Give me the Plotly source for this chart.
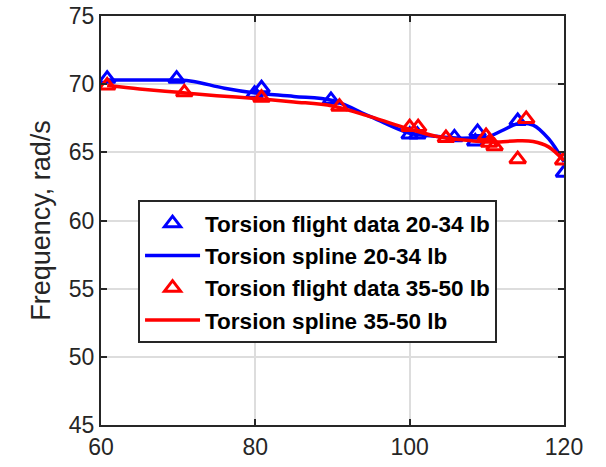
import plotly.graph_objects as go

# Flight data (20-34 lb)
blue_x = [60.8, 69.8, 79.9, 80.8, 89.8, 100.0, 101.0, 105.8, 108.5, 108.8, 114.0, 120.0]
blue_y = [70.4, 70.4, 69.3, 69.7, 68.85, 66.3, 66.3, 66.1, 65.8, 66.5, 67.3, 63.5]

# Spline curve (20-34 lb)
blue_sx = [60.8, 65, 70, 72, 76, 80, 85, 90, 95, 100, 103, 106, 108, 110, 112, 114, 116, 118, 120]
blue_sy = [70.3, 70.3, 70.3, 70.2, 69.7, 69.35, 69.1, 68.8, 67.6, 66.4, 66.2, 66.05, 66.05, 66.1, 66.6, 67.1, 67.0, 66.0, 64.3]

# Flight data (35-50 lb)
red_x = [60.8, 70.8, 80.8, 90.9, 100.0, 101.1, 104.7, 109.9, 110.3, 111.0, 114.0, 115.1, 119.9]
red_y = [69.9, 69.4, 69.0, 68.35, 66.85, 66.85, 66.05, 66.2, 65.7, 65.45, 64.5, 67.45, 64.4]

# Spline curve (35-50 lb)
red_sx = [60.8, 65, 70, 75, 80, 85, 90, 95, 100, 104, 108, 111, 114, 116, 118, 120]
red_sy = [69.9, 69.65, 69.4, 69.15, 68.95, 68.7, 68.4, 67.6, 66.7, 66.1, 65.85, 65.75, 65.85, 65.8, 65.4, 64.4]

x_ticks = [60, 80, 100, 120]
y_ticks = [45, 50, 55, 60, 65, 70, 75]

BLUE = "#0000ff"
RED = "#ff0000"
AX = "#262626"

fig = go.Figure()
fig.add_trace(go.Scatter(x=blue_x, y=blue_y, mode="markers", name="Torsion flight data 20-34 lb",
                         marker=dict(symbol="triangle-up-open", size=14, color=BLUE, line=dict(width=3, color=BLUE))))
fig.add_trace(go.Scatter(x=blue_sx, y=blue_sy, mode="lines", name="Torsion spline 20-34 lb",
                         line=dict(color=BLUE, width=3.5, shape="spline")))
fig.add_trace(go.Scatter(x=red_x, y=red_y, mode="markers", name="Torsion flight data 35-50 lb",
                         marker=dict(symbol="triangle-up-open", size=14, color=RED, line=dict(width=3, color=RED))))
fig.add_trace(go.Scatter(x=red_sx, y=red_sy, mode="lines", name="Torsion spline 35-50 lb",
                         line=dict(color=RED, width=3.5, shape="spline")))

axis_common = dict(showline=True, linecolor=AX, linewidth=2, mirror="ticks", ticks="inside",
                   ticklen=6, tickwidth=2, tickcolor=AX, showgrid=True, gridcolor="#dddddd", gridwidth=2,
                   zeroline=False, automargin=False, ticklabeloverflow="allow",
                   tickfont=dict(family="Liberation Sans, Arial", size=23, color=AX))

fig.update_layout(
    width=606, height=467,
    margin=dict(l=101, r=42, t=16, b=42, autoexpand=False),
    paper_bgcolor="white", plot_bgcolor="white",
    xaxis=dict(range=[60, 120], tickvals=x_ticks, **axis_common),
    yaxis=dict(range=[45, 75], tickvals=y_ticks,
               title=dict(text="Frequency, rad/s", font=dict(family="Liberation Sans, Arial", size=27, color=AX), standoff=10),
               **axis_common),
    legend=dict(x=0.08, y=0.55, xanchor="left", yanchor="top", bgcolor="white",
                bordercolor=AX, borderwidth=2, itemwidth=55,
                font=dict(family="Liberation Sans, Arial", size=22.5, color="black", weight="bold"),
                tracegroupgap=0),
    showlegend=True,
)

fig.write_html("out.html", config={"displayModeBar": False},
               post_script="document.body.style.margin='0';document.body.style.overflow='hidden';")
